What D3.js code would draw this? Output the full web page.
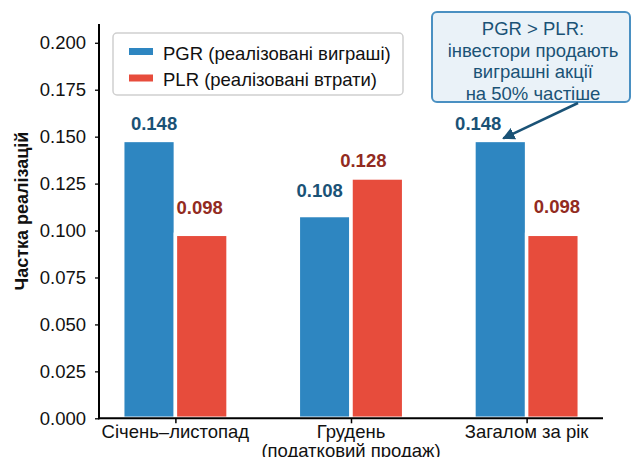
<!DOCTYPE html>
<html>
<head>
<meta charset="utf-8">
<script src="https://cdn.jsdelivr.net/npm/d3@7"></script>
<style>
  html, body { margin: 0; padding: 0; background: #fff; }
  svg { display: block; font-family: "Liberation Sans", Arial, sans-serif; }
</style>
</head>
<body>
<svg id="chart" width="632" height="457"></svg>
<script>
// Realisation rates by period
const categories = ["Січень–листопад", "Грудень\n(податковий продаж)", "Загалом за рік"];
const seriesNames = ["PGR (реалізовані виграші)", "PLR (реалізовані втрати)"];
const pgrValues = [0.148, 0.108, 0.148];
const plrValues = [0.098, 0.128, 0.098];
const yTickValues = [0, 0.025, 0.05, 0.075, 0.1, 0.125, 0.15, 0.175, 0.2];
const yLabel = "Частка реалізацій";
const noteLines = ["PGR > PLR:", "інвестори продають", "виграшні акції", "на 50% частіше"];

// Value-label nudges (px) so neighbouring labels do not collide
const labelNudgePGR = [[5, -10], [-5, -19], [-22, -10]];
const labelNudgePLR = [[-2, -20], [-14, -11], [4, -21]];

const colors = ["#2E86C1", "#E74C3C"];
const labelColors = ["#1A5276", "#922B21"];
const FS = 18.5;

const svg = d3.select("#chart");

const x = d3.scaleLinear().domain([-0.435, 2.435]).range([99, 603]);
const y = d3.scaleLinear().domain([0, 0.21]).range([418.3, 24]);
const barW = 0.3;
const offsets = [-0.15, 0.15];

const series = [pgrValues, plrValues];
const nudges = [labelNudgePGR, labelNudgePLR];

// Bars
series.forEach((vals, s) => {
  svg.append("g").selectAll("rect")
    .data(vals)
    .join("rect")
    .attr("x", (d, i) => x(i + offsets[s] - barW / 2))
    .attr("width", x(barW) - x(0))
    .attr("y", d => y(d))
    .attr("height", d => y(0) - y(d))
    .attr("fill", colors[s])
    .attr("stroke", "#fff")
    .attr("stroke-width", 3.5);
});

// Value labels
series.forEach((vals, s) => {
  svg.append("g").selectAll("text")
    .data(vals)
    .join("text")
    .attr("x", (d, i) => x(i + offsets[s]) + nudges[s][i][0])
    .attr("y", (d, i) => y(d) + nudges[s][i][1])
    .attr("text-anchor", "middle")
    .attr("font-size", FS)
    .attr("font-weight", "bold")
    .attr("fill", labelColors[s])
    .text(d => d.toFixed(3));
});

// Y axis
const yAxis = svg.append("g")
  .attr("transform", `translate(${x.range()[0]},0)`)
  .call(d3.axisLeft(y).tickValues(yTickValues).tickFormat(d3.format(".3f")).tickSize(4).tickPadding(9));
yAxis.select(".domain").attr("stroke", "#000").attr("stroke-width", 2)
  .attr("d", `M0,${y.range()[1]}V${y.range()[0] + 1}`);
yAxis.selectAll(".tick line").attr("stroke", "#000").attr("stroke-width", 1.3);
yAxis.selectAll(".tick text").attr("font-size", FS).attr("fill", "#111")
  .attr("font-family", "'Liberation Sans', Arial, sans-serif");

// X axis
const xAxis = svg.append("g")
  .attr("transform", `translate(0,${y(0)})`)
  .call(d3.axisBottom(x).tickValues([0, 1, 2]).tickFormat("").tickSize(5));
xAxis.select(".domain").attr("stroke", "#000").attr("stroke-width", 2)
  .attr("d", `M${x.range()[0] - 1},0H${x.range()[1]}`);
xAxis.selectAll(".tick line").attr("stroke", "#000").attr("stroke-width", 1.5);

const xl = svg.append("g").selectAll("text")
  .data(categories)
  .join("text")
  .attr("x", (d, i) => x(i))
  .attr("y", 438)
  .attr("text-anchor", "middle")
  .attr("font-size", FS)
  .attr("fill", "#111");
xl.each(function(d) {
  const t = d3.select(this);
  d.split("\n").forEach((line, k) => {
    t.append("tspan").attr("x", t.attr("x")).attr("dy", k === 0 ? 0 : 18.5).text(line);
  });
});

// Y axis title
svg.append("text")
  .attr("transform", "translate(28,211) rotate(-90)")
  .attr("text-anchor", "middle")
  .attr("font-size", 18)
  .attr("font-weight", "bold")
  .attr("fill", "#111")
  .text(yLabel);

// Legend
const legend = svg.append("g");
legend.append("rect")
  .attr("x", 113).attr("y", 33).attr("width", 290).attr("height", 62)
  .attr("rx", 4).attr("fill", "#fff").attr("fill-opacity", 0.85)
  .attr("stroke", "#cfcfcf").attr("stroke-width", 1.5);
seriesNames.forEach((name, s) => {
  const cy = 51.5 + s * 26.5;
  legend.append("rect")
    .attr("x", 129).attr("y", cy - 3.5).attr("width", 24).attr("height", 7)
    .attr("fill", colors[s]);
  legend.append("text")
    .attr("x", 163).attr("y", cy + 8)
    .attr("font-size", FS).attr("fill", "#111")
    .text(name);
});

// Callout box with arrow pointing at the annual PGR bar
const note = svg.append("g");
note.append("rect")
  .attr("x", 432).attr("y", 12).attr("width", 198).attr("height", 90)
  .attr("rx", 5).attr("fill", "#EAF2F8")
  .attr("stroke", "#4A90C2").attr("stroke-width", 2);
note.selectAll("text")
  .data(noteLines)
  .join("text")
  .attr("x", 533)
  .attr("y", (d, i) => 35 + i * 21.7)
  .attr("text-anchor", "middle")
  .attr("font-size", FS)
  .attr("fill", "#1A5276")
  .text(d => d);

svg.append("defs").append("marker")
  .attr("id", "arrowhead")
  .attr("viewBox", "0 0 10 10")
  .attr("refX", 9).attr("refY", 5)
  .attr("markerWidth", 5).attr("markerHeight", 5)
  .attr("markerUnits", "strokeWidth")
  .attr("orient", "auto")
  .append("path").attr("d", "M0,0L10,5L0,10Z").attr("fill", "#1A5276");

const tipX = x(2 + offsets[0]) + 3;
const tipY = y(pgrValues[2]) - 2;
svg.append("line")
  .attr("x1", 578).attr("y1", 103)
  .attr("x2", tipX).attr("y2", tipY)
  .attr("stroke", "#1A5276").attr("stroke-width", 2.5)
  .attr("marker-end", "url(#arrowhead)");
</script>
</body>
</html>
